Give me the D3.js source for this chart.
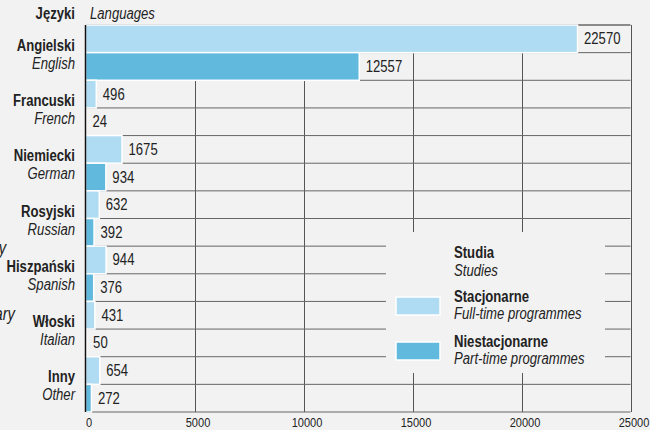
<!DOCTYPE html>
<html>
<head>
<meta charset="utf-8">
<script src="https://cdn.jsdelivr.net/npm/d3@7"></script>
<style>
  html, body { margin: 0; padding: 0; background: #f2f2f2; }
  svg text { font-family: "Liberation Sans", Arial, sans-serif; fill: #222; }
</style>
</head>
<body>
<div id="chart"></div>
<script>
// languages, polish + english names
const languagesPl = ['Angielski', 'Francuski', 'Niemiecki', 'Rosyjski', 'Hiszpański', 'Włoski', 'Inny'];
const languagesEn = ['English', 'French', 'German', 'Russian', 'Spanish', 'Italian', 'Other'];

// students per language
const fullTime = [22570, 496, 1675, 632, 944, 431, 654];
const partTime = [12557, 24, 934, 392, 376, 50, 272];

const xTicks = [0, 5000, 10000, 15000, 20000, 25000];

const width = 650, height = 430;
const plotLeft = 85.5, plotRight = 630.5, plotTop = 25, plotBottom = 412;

const lightBlue = '#afdcf2';
const darkBlue = '#62b9de';
const squeeze = 0.82; // no narrow font installed, so squash text horizontally

// put text at x,y and squash it
function place(sel, fx, fy) {
    return sel.attr('transform', (d, i) => {
        const px = typeof fx === 'function' ? fx(d, i) : fx;
        const py = typeof fy === 'function' ? fy(d, i) : fy;
        return `translate(${px},${py}) scale(${squeeze},1)`;
    });
}

const svg = d3.select('#chart')
    .append('svg')
    .attr('width', width)
    .attr('height', height);

svg.append('rect')
    .attr('width', width)
    .attr('height', height)
    .attr('fill', '#f2f2f2');

const x = d3.scaleLinear().domain([0, 25000]).range([plotLeft, plotRight]);

// one row per bar
const rows = [];
languagesPl.forEach((lang, i) => {
    rows.push({ key: lang + '-full', lang: lang, value: fullTime[i], color: lightBlue });
    rows.push({ key: lang + '-part', lang: lang, value: partTime[i], color: darkBlue });
});

const y = d3.scaleBand().domain(rows.map(d => d.key)).range([plotTop, plotBottom]);
const yLang = d3.scaleBand().domain(languagesPl).range([plotTop, plotBottom]);

// grid
const grid = svg.append('g');
grid.selectAll('line.v')
    .data(xTicks.slice(1))
    .enter()
    .append('line')
    .attr('x1', d => Math.round(x(d)) + 0.5)
    .attr('x2', d => Math.round(x(d)) + 0.5)
    .attr('y1', plotTop)
    .attr('y2', plotBottom)
    .attr('stroke', '#555')
    .attr('stroke-width', 1);

grid.selectAll('line.h')
    .data(rows)
    .enter()
    .append('line')
    .attr('x1', plotLeft)
    .attr('x2', plotRight)
    .attr('y1', d => y(d.key) + y.bandwidth())
    .attr('y2', d => y(d.key) + y.bandwidth())
    .attr('stroke', '#666')
    .attr('stroke-width', 1);

grid.append('line')
    .attr('x1', plotLeft).attr('x2', plotRight)
    .attr('y1', plotTop).attr('y2', plotTop)
    .attr('stroke', '#222');

// bars
svg.append('g')
    .selectAll('rect')
    .data(rows)
    .enter()
    .append('rect')
    .attr('x', x(0))
    .attr('y', d => y(d.key))
    .attr('width', d => x(d.value) - x(0))
    .attr('height', y.bandwidth())
    .attr('fill', d => d.color)
    .attr('stroke', '#fff')
    .attr('stroke-width', 1.5);

// value labels
svg.append('g')
    .selectAll('text')
    .data(rows)
    .enter()
    .append('text')
    .call(place, d => x(d.value) + 6.5, d => y(d.key) + y.bandwidth() / 2 + 5.5)
    .style('font-size', '16px')
    .text(d => d.value);

// left axis line
svg.append('line')
    .attr('x1', plotLeft).attr('x2', plotLeft)
    .attr('y1', plotTop).attr('y2', plotBottom)
    .attr('stroke', '#111')
    .attr('stroke-width', 1.5);

// x axis labels
const xAxis = svg.append('g')
    .attr('transform', `translate(3,${plotBottom})`)
    .call(d3.axisBottom(x).tickValues(xTicks).tickSize(0).tickPadding(5).tickFormat(d3.format('d')));
xAxis.select('.domain').remove();
xAxis.selectAll('text')
    .attr('transform', `scale(${squeeze},1)`)
    .style('font-size', '13.5px')
    .style('font-family', '"Liberation Sans", sans-serif')
    .attr('fill', '#222');

// category labels
const cats = svg.append('g');
cats.selectAll('text.pl')
    .data(languagesPl)
    .enter()
    .append('text')
    .call(place, 75, d => yLang(d) + yLang.bandwidth() / 2 - 2)
    .attr('text-anchor', 'end')
    .style('font-size', '16px')
    .style('font-weight', 'bold')
    .text(d => d);

cats.selectAll('text.en')
    .data(languagesEn)
    .enter()
    .append('text')
    .call(place, 75, (d, i) => yLang(languagesPl[i]) + yLang.bandwidth() / 2 + 16)
    .attr('text-anchor', 'end')
    .style('font-size', '16px')
    .style('font-style', 'italic')
    .text(d => d);

// header
svg.append('text')
    .call(place, 75, 18.5)
    .attr('text-anchor', 'end')
    .style('font-size', '16px')
    .style('font-weight', 'bold')
    .text('Języki');
svg.append('text')
    .call(place, 90, 18.5)
    .style('font-size', '16px')
    .style('font-style', 'italic')
    .text('Languages');

// cut off text on the left edge
svg.append('text')
    .call(place, 6, 254)
    .attr('text-anchor', 'end')
    .style('font-size', '18px')
    .style('font-style', 'italic')
    .text('y');
svg.append('text')
    .call(place, 15, 320)
    .attr('text-anchor', 'end')
    .style('font-size', '18px')
    .style('font-style', 'italic')
    .text('ary');

// legend
const legend = svg.append('g');
legend.append('rect')
    .attr('x', 386).attr('y', 232)
    .attr('width', 219).attr('height', 141)
    .attr('fill', '#f2f2f2');

legend.append('text').call(place, 454, 258)
    .style('font-size', '16px').style('font-weight', 'bold').text('Studia');
legend.append('text').call(place, 454, 276)
    .style('font-size', '16px').style('font-style', 'italic').text('Studies');

const legendItems = [
    { pl: 'Stacjonarne', en: 'Full-time programmes', color: lightBlue, y: 297 },
    { pl: 'Niestacjonarne', en: 'Part-time programmes', color: darkBlue, y: 342 }
];
legendItems.forEach(item => {
    legend.append('rect')
        .attr('x', 396).attr('y', item.y)
        .attr('width', 44).attr('height', 18)
        .attr('fill', item.color)
        .attr('stroke', '#fff')
        .attr('stroke-width', 1.5);
    legend.append('text').call(place, 454, item.y + 4.5)
        .style('font-size', '16px').style('font-weight', 'bold').text(item.pl);
    legend.append('text').call(place, 454, item.y + 21.5)
        .style('font-size', '16px').style('font-style', 'italic').text(item.en);
});
</script>
</body>
</html>
